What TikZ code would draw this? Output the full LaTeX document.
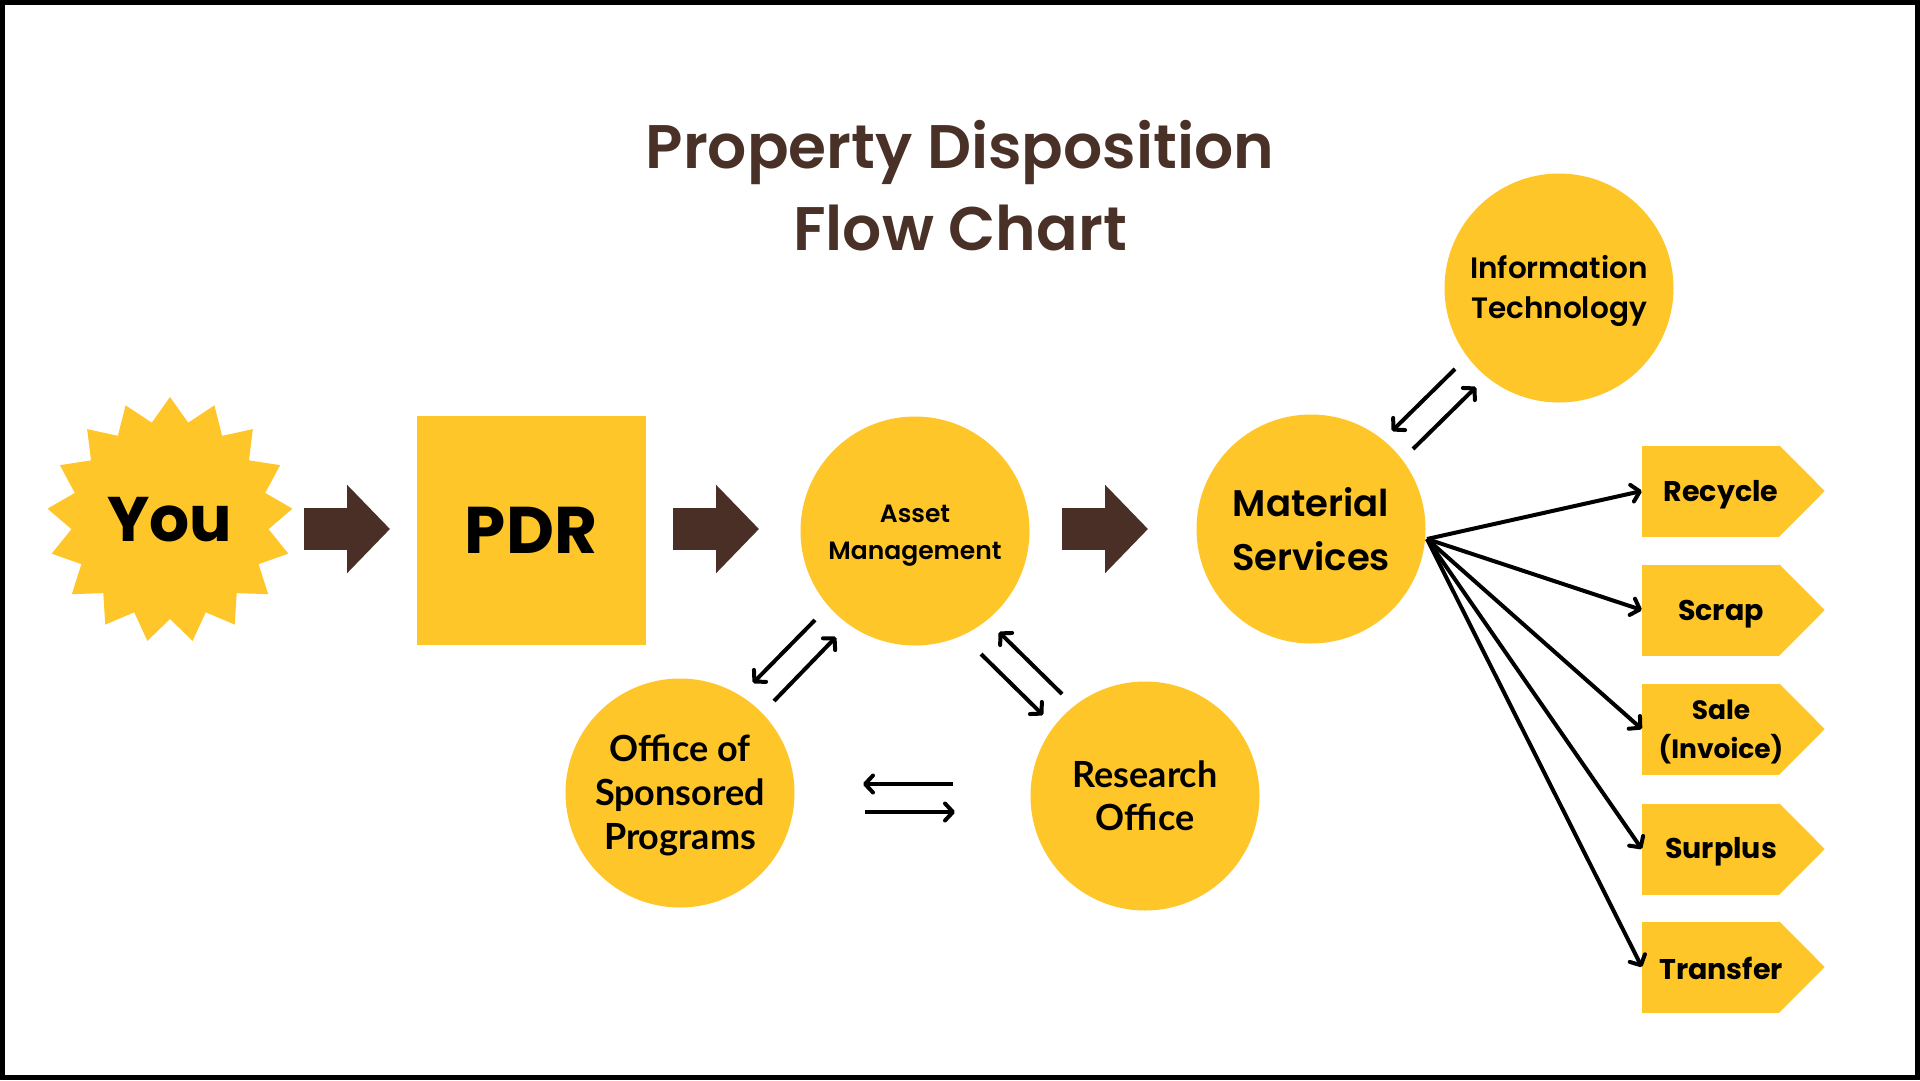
\documentclass[tikz,border=0pt]{standalone}
\usepackage{fontspec}
\setmainfont{Poppins}
\newfontfamily\pbold{Poppins}[UprightFont={* Bold}]
\newfontfamily\psemi{Poppins}[UprightFont={* SemiBold}]
\newfontfamily\latob{Lato}[UprightFont={* Bold}]
\usetikzlibrary{arrows.meta}
\definecolor{ylw}{HTML}{FFC629}
\definecolor{brn}{HTML}{4A2F27}
\definecolor{ttl}{HTML}{4A3128}
\tikzset{
  circ/.style={circle, fill=ylw, minimum size=229pt, inner sep=0pt},
  circtext/.style={align=center, text=black, inner sep=0pt},
  tagbody/.style={rectangle, fill=ylw, minimum width=137pt, minimum height=91pt, inner sep=0pt},
  tagtext/.style={font=\pbold\fontsize{28.5}{33}\selectfont, align=center, text=black},
  blockarrow/.style={draw=brn, line width=42pt, -{Triangle[length=43pt,width=86pt]}},
  flowarrow/.style={draw=black, line width=4pt, -{Straight Barb[length=8pt,width=17pt,round]}},
  titletext/.style={font=\psemi\fontsize{61.5}{82}\selectfont, text=ttl, anchor=base, inner sep=0pt}
}
\begin{document}
\begin{tikzpicture}[x=1pt,y=-1pt]
\useasboundingbox (0,0) rectangle (1920,1080);
\fill[white] (0,0) rectangle (1920,1080);
\draw[line width=5pt] (2.5,2.5) rectangle (1917.5,1077.5);

% title
\node[titletext] (title1) at (960,168) {Property Disposition};
\node[titletext] (title2) at (960,250) {Flow Chart};

% star
\fill[ylw] (170,397) \foreach \k in {1,...,33} { -- ({170+(111+12*cos(\k*180))*cos(90+\k*180/17)}, {520-(111+12*cos(\k*180))*sin(90+\k*180/17)}) } -- cycle;
\node[font=\pbold\fontsize{63}{63}\selectfont] (you) at (170,520) {You};

% PDR
\node[rectangle, fill=ylw, minimum size=229pt, inner sep=0pt, font=\pbold\fontsize{66}{66}\selectfont] (pdr) at (531,530) {PDR};

% circles
\node[circ] (am) at (915,531) {};
\node[circtext, font=\psemi\fontsize{25}{37}\selectfont] (amT) at ([yshift=-5pt]am.center) {Asset\\Management};
\node[circ] (ms) at (1311,529) {};
\node[circtext, font=\psemi\fontsize{37}{54}\selectfont] (msT) at (ms.center) {Material\\Services};
\node[circ] (it) at (1559,288) {};
\node[circtext, font=\psemi\fontsize{29.5}{40}\selectfont] (itT) at ([yshift=-3pt]it.center) {Information\\Technology};
\node[circ] (osp) at (680,793) {};
\node[circtext, font=\latob\fontsize{36}{44}\selectfont] (ospT) at ([yshift=-2.5pt]osp.center) {Office of\\Sponsored\\Programs};
\node[circ] (ro) at (1145,796) {};
\node[circtext, font=\latob\fontsize{36}{43}\selectfont] (roT) at (ro.center) {Research\\Office};

% block arrows
\coordinate (a1s) at (304,529); \coordinate (a1e) at (390,529);
\coordinate (a2s) at (673,529); \coordinate (a2e) at (759,529);
\coordinate (a3s) at (1062,529); \coordinate (a3e) at (1148,529);
\draw[blockarrow] (a1s) -- (a1e);
\draw[blockarrow] (a2s) -- (a2e);
\draw[blockarrow] (a3s) -- (a3e);

% tags
\foreach \nm/\cy in {recycle/491, scrap/610, sale/729, surplus/849, transfer/967} {
  \node[tagbody] (\nm) at (1710.5,\cy) {};
  \fill[ylw] (\nm.north east) -- ([xshift=45.5pt]\nm.east) -- (\nm.south east) -- cycle;
}
\node[tagtext] (recycleT) at ([xshift=10.5pt,yshift=-4pt]recycle.center) {Recycle};
\node[tagtext] (scrapT) at ([xshift=10.5pt,yshift=-4pt]scrap.center) {Scrap};
\node[tagtext, font=\pbold\fontsize{26.5}{39}\selectfont] (saleT) at ([xshift=10.5pt,yshift=-3pt]sale.center) {Sale\\(Invoice)};
\node[tagtext] (surplusT) at ([xshift=10.5pt,yshift=-3pt]surplus.center) {Surplus};
\node[tagtext] (transferT) at ([xshift=10.5pt,yshift=-1pt]transfer.center) {Transfer};

% fan
\coordinate (fan) at (1427,539);
\foreach \nm in {recycle, scrap, sale, surplus, transfer} {
  \draw[flowarrow] (fan) -- (\nm.west);
}

% paired arrows
\coordinate (p1) at (1455,369); \coordinate (p2) at (1392,431);
\coordinate (p3) at (1413,449); \coordinate (p4) at (1476,387);
\draw[flowarrow] (p1) -- (p2);
\draw[flowarrow] (p3) -- (p4);

\coordinate (q1) at (815,620); \coordinate (q2) at (753,683);
\coordinate (q3) at (774,701); \coordinate (q4) at (836,637);
\draw[flowarrow] (q1) -- (q2);
\draw[flowarrow] (q3) -- (q4);

\coordinate (r1) at (981,654); \coordinate (r2) at (1043,715);
\coordinate (r3) at (1062,694); \coordinate (r4) at (999,632);
\draw[flowarrow] (r1) -- (r2);
\draw[flowarrow] (r3) -- (r4);

\coordinate (s1) at (953,784); \coordinate (s2) at (863,784);
\coordinate (s3) at (865,812); \coordinate (s4) at (955,812);
\draw[flowarrow] (s1) -- (s2);
\draw[flowarrow] (s3) -- (s4);
\end{tikzpicture}
\end{document}
